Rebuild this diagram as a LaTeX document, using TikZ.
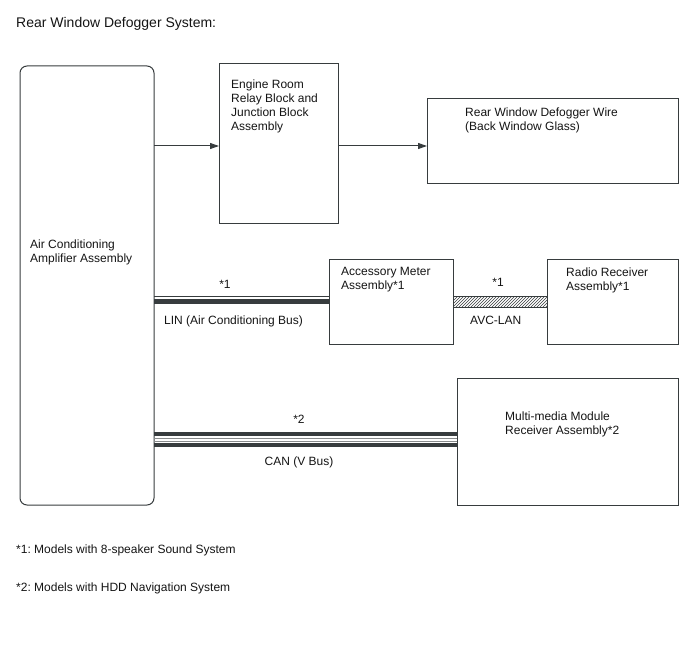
\documentclass[tikz,border=0pt]{standalone}
\usepackage{fontspec}
\setmainfont{Liberation Sans}
\usetikzlibrary{arrows.meta,patterns}
\definecolor{ln}{RGB}{55,60,62}
\definecolor{tx}{RGB}{20,20,20}
\frenchspacing
\begin{document}
\begin{tikzpicture}[x=1pt,y=-1pt,
  box/.style={draw=ln,line width=1pt,minimum width=0pt,minimum height=0pt,inner sep=0pt},
  lbl/.style={anchor=north west,inner sep=0pt,align=left,text=tx,font=\fontsize{12}{14}\selectfont},
  arr/.style={draw=ln,line width=1pt,-{Triangle[length=9pt,width=6pt]}}]
\useasboundingbox (0,0) rectangle (688,658);
\node[anchor=north west,inner sep=0pt,text=tx,font=\fontsize{14}{16}\selectfont] (title) at (16,17.5) {Rear Window Defogger System:};
% boxes
\draw[box,rounded corners=7pt] (20,66) rectangle (154,505);
\coordinate (ampNE) at (154,66);
\coordinate (ampSE) at (154,505);
\node[box,anchor=north west,minimum width=119pt,minimum height=160pt] (eng) at (219,63) {};
\node[box,anchor=north west,minimum width=251pt,minimum height=85pt] (rear) at (427,98) {};
\node[box,anchor=north west,minimum width=124pt,minimum height=85pt] (meter) at (329,259) {};
\node[box,anchor=north west,minimum width=131pt,minimum height=85pt] (radio) at (547,259) {};
\node[box,anchor=north west,minimum width=221pt,minimum height=127pt] (mm) at (457,378) {};
% labels
\node[lbl] (ampt) at (30,239.5) {Air Conditioning\\Amplifier Assembly};
\node[lbl] (engt) at (231,79.5) {Engine Room\\Relay Block and\\Junction Block\\Assembly};
\node[lbl] (reart) at (465,107.5) {Rear Window Defogger Wire\\(Back Window Glass)};
\node[lbl] (metert) at (341,267.5) {Accessory Meter\\Assembly*1};
\node[lbl] (radiot) at (566,267.5) {Radio Receiver\\Assembly*1};
\node[lbl] (mmt) at (505,411.5) {Multi-media Module\\Receiver Assembly*2};
% arrows
\draw[arr] (ampNE |- 0,146) -- (eng.west |- 0,146);
\draw[arr] (eng.east |- 0,146) -- (rear.west |- 0,146);
% LIN bus
\draw[ln,line width=1pt] (ampNE |- 0,296) -- (meter.west |- 0,296);
\draw[ln,line width=4.5pt] (ampNE |- 0,301.7) -- (meter.west |- 0,301.7);
\node[lbl,anchor=center] (s1a) at (225,284.5) {*1};
\node[lbl] (lint) at (164,315.5) {LIN (Air Conditioning Bus)};
% AVC-LAN
\fill[pattern=north east lines,pattern color=ln] (meter.east |- 0,296) rectangle (radio.west |- 0,307);
\draw[ln,line width=0.8pt] (meter.east |- 0,296) -- (radio.west |- 0,296);
\draw[ln,line width=0.8pt] (meter.east |- 0,307) -- (radio.west |- 0,307);
\node[lbl,anchor=center] (s1b) at (498,282.5) {*1};
\node[lbl] (avct) at (470,315.5) {AVC-LAN};
% CAN bus
\draw[ln,line width=3.3pt] (ampSE |- 0,434) -- (mm.west |- 0,434);
\draw[ln!60,line width=0.8pt] (ampSE |- 0,438) -- (mm.west |- 0,438);
\draw[ln!60,line width=0.8pt] (ampSE |- 0,441) -- (mm.west |- 0,441);
\draw[ln,line width=3.3pt] (ampSE |- 0,445) -- (mm.west |- 0,445);
\node[lbl,anchor=center] (s2) at (299,419.5) {*2};
\node[lbl,anchor=center] (cant) at (299,462.5) {CAN (V Bus)};
% footnotes
\node[lbl] (f1) at (16,544.5) {*1: Models with 8-speaker Sound System};
\node[lbl] (f2) at (16,582.5) {*2: Models with HDD Navigation System};
\end{tikzpicture}
\end{document}
